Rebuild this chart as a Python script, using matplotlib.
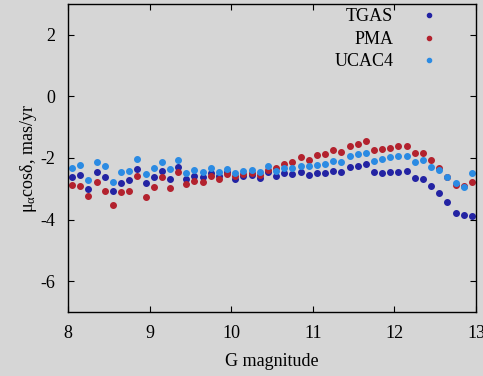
import matplotlib
matplotlib.use('Agg')
import matplotlib.pyplot as plt

# G magnitude bins (0.1 mag wide)
mag = [8.05, 8.15, 8.25, 8.35, 8.45, 8.55, 8.65, 8.75, 8.85, 8.95,
       9.05, 9.15, 9.25, 9.35, 9.45, 9.55, 9.65, 9.75, 9.85, 9.95,
       10.05, 10.15, 10.25, 10.35, 10.45, 10.55, 10.65, 10.75, 10.85, 10.95,
       11.05, 11.15, 11.25, 11.35, 11.45, 11.55, 11.65, 11.75, 11.85, 11.95,
       12.05, 12.15, 12.25, 12.35, 12.45, 12.55, 12.65, 12.75, 12.85, 12.95]

tgas = [-2.63, -2.54, -3.01, -2.47, -2.63, -3.06, -2.81, -2.73, -2.36, -2.81,
        -2.63, -2.41, -2.68, -2.28, -2.68, -2.58, -2.63, -2.50, -2.58, -2.45,
        -2.68, -2.58, -2.54, -2.65, -2.47, -2.60, -2.50, -2.52, -2.45, -2.55,
        -2.50, -2.49, -2.41, -2.45, -2.28, -2.25, -2.20, -2.47, -2.49, -2.45,
        -2.44, -2.41, -2.66, -2.69, -2.91, -3.15, -3.44, -3.80, -3.85, -3.87]

pma = [-2.87, -2.91, -3.22, -2.79, -3.06, -3.53, -3.12, -3.06, -2.60, -3.28,
       -2.93, -2.63, -2.99, -2.44, -2.85, -2.74, -2.78, -2.58, -2.68, -2.52,
       -2.58, -2.52, -2.48, -2.54, -2.40, -2.31, -2.20, -2.14, -1.98, -2.06,
       -1.89, -1.87, -1.74, -1.81, -1.60, -1.55, -1.44, -1.74, -1.71, -1.66,
       -1.60, -1.62, -1.84, -1.84, -2.06, -2.33, -2.61, -2.89, -2.90, -2.79]

ucac4 = [-2.33, -2.24, -2.71, -2.14, -2.27, -2.77, -2.45, -2.41, -2.03, -2.52,
         -2.31, -2.14, -2.36, -2.06, -2.49, -2.38, -2.47, -2.33, -2.44, -2.36,
         -2.49, -2.41, -2.38, -2.44, -2.27, -2.41, -2.31, -2.34, -2.25, -2.27,
         -2.22, -2.20, -2.09, -2.14, -1.95, -1.87, -1.84, -2.09, -2.03, -1.98,
         -1.93, -1.93, -2.12, -2.07, -2.28, -2.38, -2.63, -2.81, -2.95, -2.50]

xticks = [8, 9, 10, 11, 12, 13]
yticks = [-6, -4, -2, 0, 2]

plt.rcParams['font.family'] = ['Liberation Serif', 'DejaVu Serif']
plt.rcParams['mathtext.fontset'] = 'custom'
plt.rcParams['mathtext.rm'] = 'Liberation Serif'
plt.rcParams['mathtext.it'] = 'Liberation Serif'
plt.rcParams['axes.unicode_minus'] = False

bg = '#d6d6d6'
fig = plt.figure(figsize=(4.83, 3.76), dpi=100, facecolor=bg)
ax = fig.add_axes([0.1408, 0.1702, 0.8447, 0.8192], facecolor=bg)

ax.plot(mag, tgas, 'o', ms=4.0, color='#2323a3', label='TGAS')
ax.plot(mag, pma, 'o', ms=4.0, color='#b3222e', label='PMA')
ax.plot(mag, ucac4, 'o', ms=4.0, color='#2b8be3', label='UCAC4')

ax.set_xlim(8, 13)
ax.set_ylim(-7, 3)
ax.set_xticks(xticks)
ax.set_yticks(yticks)
ax.tick_params(direction='in', length=4, width=0.8, top=True, right=True,
               labelsize=13, pad=9)
for s in ax.spines.values():
    s.set_color('black')
    s.set_linewidth(1.0)

ax.set_xlabel('G magnitude', fontsize=13, labelpad=8)
ax.set_ylabel(r'μ$_{α}$cosδ, mas/yr', fontsize=13, labelpad=1)

leg = ax.legend(loc='upper right', bbox_to_anchor=(0.941, 1.0),
                markerfirst=False, frameon=False,
                fontsize=13, handlelength=2.0, handletextpad=1.0,
                labelspacing=0.3, borderaxespad=0.0, borderpad=0.25,
                markerscale=0.75, numpoints=1)

fig.savefig('out.png', dpi=100, facecolor=bg)
